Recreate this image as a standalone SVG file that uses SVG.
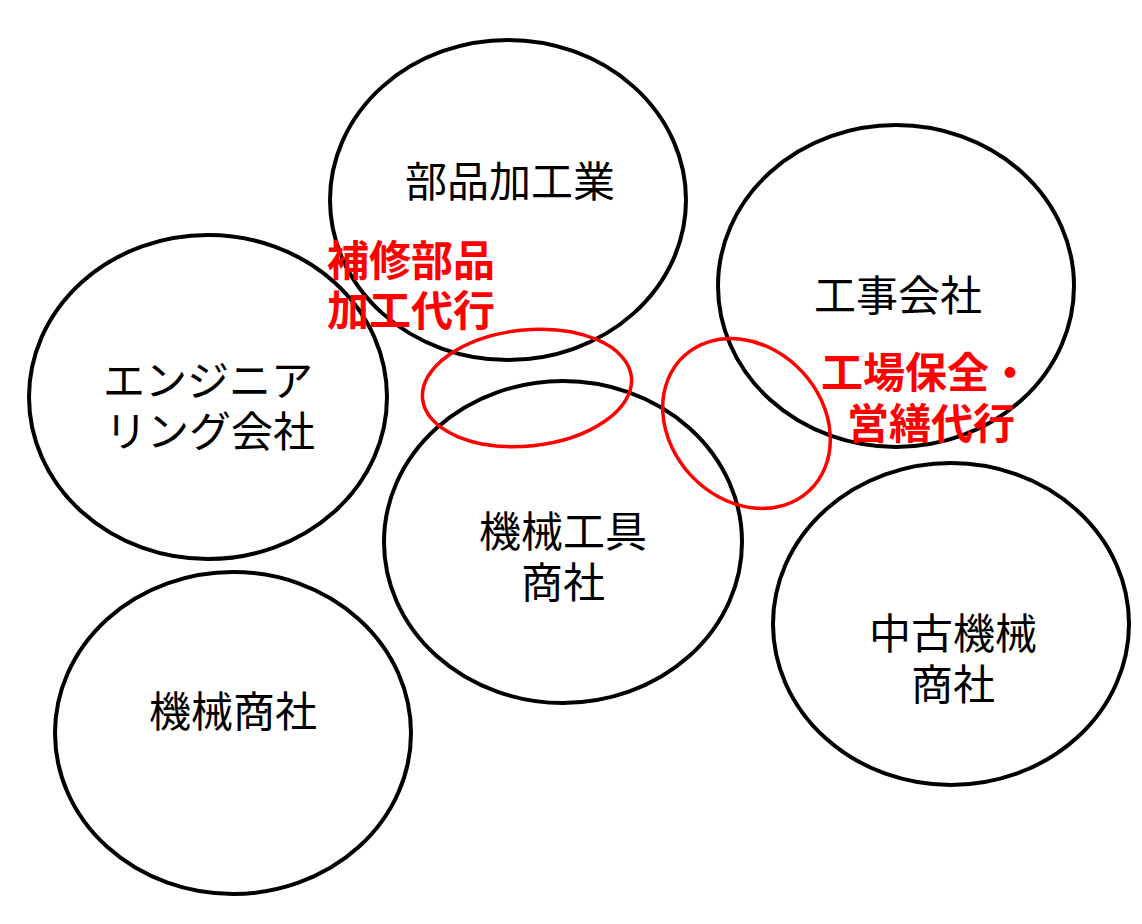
<svg xmlns="http://www.w3.org/2000/svg" width="1142" height="924" viewBox="0 0 1142 924">
<style>
.node{fill:none;stroke:#000;stroke-width:4}
.hl{fill:none;stroke:#ff0000;stroke-width:3.5}
.lbl{font-family:"Noto Sans CJK JP","Noto Sans CJK SC",sans-serif;font-size:42px;fill:#000;text-anchor:middle}
.red{font-family:"Noto Sans CJK JP","Noto Sans CJK SC",sans-serif;font-size:42px;font-weight:bold;fill:#ff0000;text-anchor:middle}
</style>
<rect width="1142" height="924" fill="#fff"/>
<g id="node-buhin">
<ellipse class="node" cx="508" cy="200" rx="178" ry="160"/>
<text class="lbl" x="510" y="197">部品加工業</text>
</g>
<g id="node-kouji">
<ellipse class="node" cx="896" cy="286" rx="178" ry="161"/>
<text class="lbl" x="898" y="311">工事会社</text>
</g>
<g id="node-engineering">
<ellipse class="node" cx="208" cy="397" rx="179" ry="162"/>
<text class="lbl" x="208" y="396">エンジニア<tspan x="210" dy="51">リング会社</tspan></text>
</g>
<g id="node-kikaikougu">
<ellipse class="node" cx="563" cy="542" rx="179" ry="161"/>
<text class="lbl" x="563" y="547">機械工具<tspan x="563" dy="51">商社</tspan></text>
</g>
<g id="node-chuko">
<ellipse class="node" cx="951" cy="624" rx="178" ry="161"/>
<text class="lbl" x="953" y="649">中古機械<tspan x="953" dy="51">商社</tspan></text>
</g>
<g id="node-kikai">
<ellipse class="node" cx="233" cy="733" rx="178" ry="161"/>
<text class="lbl" x="233" y="727">機械商社</text>
</g>
<g id="connectors">
<ellipse class="hl" cx="527" cy="388" rx="105" ry="58" transform="rotate(-6 527 388)"/>
<ellipse class="hl" cx="746.5" cy="423.5" rx="92" ry="76" transform="rotate(47 746.5 423.5)"/>
</g>
<g id="labels">
<text class="red" x="411" y="276">補修部品<tspan x="411" dy="50">加工代行</tspan></text>
<text class="red" x="926" y="388">工場保全・<tspan x="931" dy="51">営繕代行</tspan></text>
</g>
</svg>
